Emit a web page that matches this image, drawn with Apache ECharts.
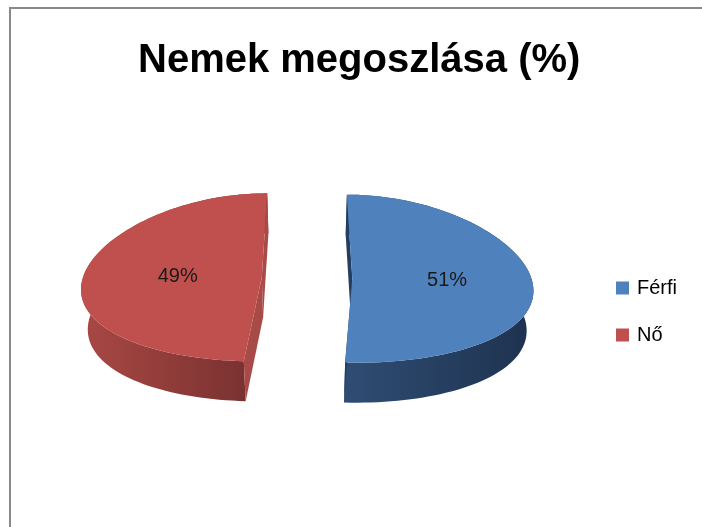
<!DOCTYPE html>
<html>
<head>
<meta charset="utf-8">
<script src="https://cdn.jsdelivr.net/npm/echarts@6/dist/echarts.min.js"></script>
<style>
  html, body { margin: 0; padding: 0; background: #fff; }
  #chart { width: 702px; height: 527px; }
</style>
</head>
<body>
<div id="chart"></div>
<script>
// data
const categories = ['Férfi', 'Nő']
const values = [51, 49]

// colours (Excel 2007 palette)
const topColors = ['#4f81bd', '#c0504d']
const cutColors = ['#253e60', '#a84a47']
const wallColors = [['#2f4d73', '#1e324f'], ['#a94845', '#732f2d']]

// pseudo 3D geometry of the exploded pie
const CX = 307, CY = 278, RX = 179, RY = 84
const PERSP = 0.12, EXPLODE = 0.253, DEPTH = 40, LEAN = 0.03

const total = values.reduce((a, b) => a + b, 0)
const starts = values.map((v, i) => values.slice(0, i).reduce((a, b) => a + b, 0))

// u: left/right, v: far(-1) .. near(+1)
const project = (u, v) => [CX + u * RX * (1 + PERSP * v), CY + v * RY]
const drop = (p) => [p[0] - (p[0] - CX) * LEAN, p[1] + DEPTH]

const makeRender = (idx) => (params, api) => {
  const val = api.value(0)
  const a0 = starts[idx] / total * Math.PI * 2
  const a1 = (starts[idx] + val) / total * Math.PI * 2
  const mid = (a0 + a1) / 2
  const ou = EXPLODE * Math.sin(mid)
  const ov = -EXPLODE * Math.cos(mid)
  const pt = (a, r) => project(ou + r * Math.sin(a), ov - r * Math.cos(a))

  const n = Math.ceil((a1 - a0) / (Math.PI / 90))
  const arc = []
  for (let k = 0; k <= n; k++) arc.push(pt(a0 + (a1 - a0) * k / n, 1))
  const apex = pt(0, 0)

  const wall = arc.concat(arc.map(drop).reverse())
  const cut0 = [apex, arc[0], drop(arc[0]), drop(apex)]
  const cut1 = [apex, arc[n], drop(arc[n]), drop(apex)]
  const top = [apex].concat(arc)
  const lp = pt(mid, 0.5)

  return {
    type: 'group',
    children: [
      {
        type: 'polygon',
        shape: { points: wall },
        style: {
          fill: new echarts.graphic.LinearGradient(0, 0, 1, 0, [
            { offset: 0, color: wallColors[idx][0] },
            { offset: 1, color: wallColors[idx][1] },
          ]),
        },
      },
      { type: 'polygon', shape: { points: cut0 }, style: { fill: cutColors[idx] } },
      { type: 'polygon', shape: { points: cut1 }, style: { fill: cutColors[idx] } },
      { type: 'polygon', shape: { points: top }, style: { fill: topColors[idx] } },
      {
        type: 'text',
        style: {
          text: Math.round(val / total * 100) + '%',
          x: lp[0] + 5, // Excel nudges labels slightly right
          y: lp[1],
          align: 'center',
          verticalAlign: 'middle',
          fill: '#1a1a1a',
          fontSize: 20,
          fontFamily: 'Liberation Sans',
        },
      },
    ],
  }
}

const chart = echarts.init(document.getElementById('chart'))

chart.setOption({
  animation: false,
  backgroundColor: '#fff',
  textStyle: { fontFamily: 'Liberation Sans' },
  title: {
    text: 'Nemek megoszlása (%)',
    left: 138,
    top: 41,
    padding: 0,
    textStyle: {
      fontFamily: 'Liberation Sans',
      fontSize: 40,
      fontWeight: 'bold',
      color: '#000',
    },
  },
  legend: {
    orient: 'vertical',
    left: 616,
    top: 278,
    padding: 0,
    itemWidth: 13,
    itemHeight: 13,
    itemGap: 27,
    icon: 'rect',
    data: categories,
    textStyle: {
      fontSize: 20,
      lineHeight: 20,
      color: '#000',
      padding: [0, 0, 0, 3],
    },
  },
  graphic: [
    {
      type: 'rect',
      silent: true,
      shape: { x: 10, y: 8, width: 760, height: 560 },
      style: { fill: 'none', stroke: '#898989', lineWidth: 2 },
    },
  ],
  series: categories.map((name, i) => ({
    type: 'custom',
    name: name,
    coordinateSystem: 'none',
    itemStyle: { color: topColors[i] },
    data: [values[i]],
    renderItem: makeRender(i),
  })),
})
</script>
</body>
</html>
